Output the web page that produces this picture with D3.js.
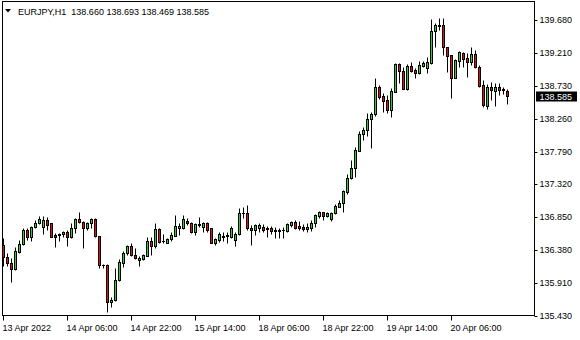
<!DOCTYPE html>
<html>
<head>
<meta charset="utf-8">
<script src="https://cdn.jsdelivr.net/npm/d3@7"></script>
<style>
  html, body { margin: 0; padding: 0; background: #fff; }
  svg { display: block; font-family: "Liberation Sans", Arial, sans-serif; font-size: 9px; }
</style>
</head>
<body>
<div id="chart"></div>
<script>
// EURJPY H1 bars
const opens = [
  136.449, 136.273, 136.187, 136.100, 136.353, 136.459, 136.664, 136.568, 136.712, 136.761,
  136.712, 136.808, 136.761, 136.593, 136.603, 136.603, 136.632, 136.560, 136.689, 136.823,
  136.775, 136.698, 136.761, 136.823, 136.583, 136.162, 136.162, 135.631, 135.660, 135.947,
  136.196, 136.330, 136.435, 136.306, 136.230, 136.248, 136.296, 136.507, 136.439, 136.679,
  136.507, 136.483, 136.531, 136.583, 136.698, 136.698, 136.798, 136.761, 136.641, 136.736,
  136.712, 136.770, 136.689, 136.474, 136.521, 136.568, 136.579, 136.568, 136.521, 136.607,
  136.904, 136.904, 136.698, 136.664, 136.698, 136.708, 136.698, 136.689, 136.669, 136.660,
  136.669, 136.650, 136.736, 136.775, 136.726, 136.712, 136.679, 136.698, 136.761, 136.870,
  136.918, 136.870, 136.823, 136.904, 136.999, 137.047, 137.215, 137.407, 137.550, 137.803,
  138.039, 138.101, 138.254, 138.331, 138.713, 138.589, 138.531, 138.388, 138.651, 139.048,
  138.952, 138.689, 139.020, 138.962, 138.923, 139.020, 138.986, 139.058, 139.522, 139.608,
  139.608, 139.288, 139.178, 138.851, 139.096, 139.202, 139.130, 139.082, 139.192, 139.001,
  138.746, 138.450, 138.723, 138.665, 138.713, 138.689, 138.660
];
const highs = [
  136.554, 136.330, 136.263, 136.425, 136.521, 136.689, 136.689, 136.726, 136.808, 136.870,
  136.870, 136.855, 136.761, 136.617, 136.617, 136.650, 136.664, 136.761, 136.833, 136.927,
  136.794, 136.784, 136.833, 136.833, 136.583, 136.177, 136.172, 135.703, 136.119, 136.248,
  136.363, 136.445, 136.483, 136.402, 136.292, 136.320, 136.560, 136.560, 136.770, 136.689,
  136.607, 136.545, 136.641, 136.880, 136.761, 136.880, 136.833, 136.784, 136.770, 136.847,
  136.775, 136.784, 136.698, 136.554, 136.632, 136.632, 136.632, 136.722, 136.632, 136.976,
  137.000, 137.023, 136.737, 136.747, 136.761, 136.747, 136.722, 136.726, 136.703, 136.698,
  136.708, 136.761, 136.794, 136.808, 136.794, 136.747, 136.770, 136.808, 136.890, 136.937,
  136.927, 136.927, 136.927, 137.038, 137.095, 137.239, 137.469, 137.670, 137.852, 138.090,
  138.148, 138.349, 138.363, 138.842, 138.746, 138.627, 138.603, 138.699, 139.067, 139.058,
  139.010, 139.044, 139.082, 138.986, 139.096, 139.091, 139.153, 139.690, 139.641, 139.704,
  139.704, 139.288, 139.178, 139.120, 139.235, 139.225, 139.202, 139.288, 139.249, 139.034,
  138.818, 138.761, 138.794, 138.770, 138.770, 138.713, 138.693
];
const lows = [
  136.148, 136.152, 135.923, 136.095, 136.330, 136.449, 136.521, 136.507, 136.689, 136.747,
  136.607, 136.664, 136.560, 136.425, 136.507, 136.568, 136.439, 136.545, 136.617, 136.761,
  136.410, 136.664, 136.689, 136.568, 136.124, 136.119, 135.492, 135.559, 135.645, 135.933,
  136.129, 136.306, 136.292, 136.253, 136.152, 136.234, 136.292, 136.306, 136.402, 136.474,
  136.474, 136.474, 136.507, 136.579, 136.593, 136.679, 136.736, 136.626, 136.593, 136.712,
  136.641, 136.641, 136.474, 136.449, 136.497, 136.507, 136.474, 136.554, 136.439, 136.593,
  136.833, 136.664, 136.449, 136.593, 136.641, 136.632, 136.568, 136.603, 136.545, 136.554,
  136.545, 136.632, 136.712, 136.675, 136.664, 136.650, 136.641, 136.650, 136.712, 136.833,
  136.808, 136.856, 136.798, 136.894, 136.990, 136.927, 137.182, 137.397, 137.430, 137.794,
  137.957, 138.015, 137.838, 138.302, 138.545, 138.363, 138.340, 138.292, 138.641, 138.771,
  138.684, 138.675, 138.938, 138.842, 138.904, 139.001, 138.914, 139.044, 139.288, 139.537,
  139.178, 138.938, 138.555, 138.847, 139.001, 139.010, 138.866, 139.034, 138.986, 138.723,
  138.436, 138.398, 138.531, 138.450, 138.603, 138.617, 138.469
];
const closes = [
  136.273, 136.187, 136.100, 136.363, 136.459, 136.664, 136.568, 136.712, 136.761, 136.818,
  136.808, 136.736, 136.568, 136.568, 136.593, 136.632, 136.560, 136.689, 136.823, 136.775,
  136.698, 136.761, 136.823, 136.583, 136.162, 136.158, 135.635, 135.660, 135.947, 136.210,
  136.330, 136.435, 136.306, 136.267, 136.267, 136.306, 136.507, 136.439, 136.679, 136.497,
  136.502, 136.536, 136.593, 136.722, 136.722, 136.818, 136.761, 136.641, 136.751, 136.751,
  136.770, 136.664, 136.483, 136.531, 136.607, 136.583, 136.593, 136.689, 136.607, 136.904,
  136.913, 136.689, 136.664, 136.736, 136.736, 136.669, 136.679, 136.650, 136.655, 136.650,
  136.660, 136.747, 136.775, 136.689, 136.689, 136.679, 136.712, 136.761, 136.880, 136.927,
  136.870, 136.904, 136.904, 137.009, 137.047, 137.225, 137.407, 137.550, 137.813, 138.039,
  138.101, 138.254, 138.331, 138.713, 138.579, 138.521, 138.388, 138.660, 139.048, 138.952,
  138.689, 139.020, 138.952, 138.923, 139.034, 139.067, 139.082, 139.522, 139.608, 139.598,
  139.288, 139.163, 138.851, 139.106, 139.216, 139.120, 139.082, 139.192, 139.001, 138.732,
  138.460, 138.723, 138.675, 138.713, 138.675, 138.675, 138.585
];

// time axis: bar index of each label and its text
const tickBars = [0, 16, 32, 48, 64, 80, 96, 112];
const tickLabels = ["13 Apr 2022", "14 Apr 06:00", "14 Apr 22:00", "15 Apr 14:00",
                    "18 Apr 06:00", "18 Apr 22:00", "19 Apr 14:00", "20 Apr 06:00"];

// price axis
const priceTicks = [139.680, 139.210, 138.730, 138.260, 137.790, 137.320, 136.850, 136.380, 135.910, 135.430];
const symbol = "EURJPY,H1";

(function() {

  let width = 580, height = 340;
  let frame = {left: 2.5, top: 1.5, right: 534.5, bottom: 315.5};
  let bull = "#33cc33", bear = "#e01010";

  let n = opens.length;
  let bars = d3.range(n).map(i => ({ i: i, o: opens[i], h: highs[i], l: lows[i], c: closes[i] }));

  let svg = d3.select("#chart")
    .append("svg")
      .attr("width", width)
      .attr("height", height);

  // x: one 4px slot per bar
  let x = d3.scaleBand()
      .domain(d3.range(n))
      .range([1.5, 1.5 + 4 * n])
      .padding(0);
  let cx = i => x(i) + x.bandwidth() / 2;

  // y: price
  let y = d3.scaleLinear()
      .domain([135.430, 139.680])
      .range([316, 20]);
  let py = v => Math.round(y(v)) + 0.5;

  // frame
  svg.append("rect")
      .attr("x", frame.left)
      .attr("y", frame.top)
      .attr("width", frame.right - frame.left)
      .attr("height", frame.bottom - frame.top)
      .attr("fill", "none")
      .attr("stroke", "#000");

  // candles
  let g = svg.append("g");
  let candle = g.selectAll("g.bar")
    .data(bars)
    .enter()
    .append("g")
      .attr("class", "bar");

  candle.append("line")
      .attr("x1", d => cx(d.i))
      .attr("x2", d => cx(d.i))
      .attr("y1", d => py(d.h))
      .attr("y2", d => py(d.l))
      .attr("stroke", "#000");

  candle.each(function(d) {
    let top = Math.min(py(d.o), py(d.c)),
        bot = Math.max(py(d.o), py(d.c)),
        sel = d3.select(this);
    if (bot - top < 1) {
      sel.append("line")
          .attr("x1", cx(d.i) - 1.5)
          .attr("x2", cx(d.i) + 1.5)
          .attr("y1", top)
          .attr("y2", top)
          .attr("stroke", "#000");
    } else {
      sel.append("rect")
          .attr("x", cx(d.i) - 1)
          .attr("y", top)
          .attr("width", 2)
          .attr("height", bot - top)
          .attr("fill", d.c >= d.o ? bull : bear)
          .attr("stroke", "#000");
    }
  });

  // time axis
  let xAxis = svg.append("g")
      .attr("transform", "translate(0," + frame.bottom + ")")
      .call(d3.axisBottom(x)
        .tickValues(tickBars)
        .tickFormat((d, k) => tickLabels[k])
        .tickSize(5)
        .tickPadding(4)
        .offset(0));
  xAxis.select(".domain").remove();
  xAxis.selectAll("text")
      .attr("text-anchor", "start")
      .attr("x", -1)
      .attr("fill", "#000");
  xAxis.attr("font-family", null).attr("font-size", null);

  // price axis
  let yAxis = svg.append("g")
      .attr("transform", "translate(" + frame.right + ",0)")
      .call(d3.axisRight(y)
        .tickValues(priceTicks)
        .tickFormat(d3.format(".3f"))
        .tickSize(3)
        .tickPadding(2)
        .offset(0));
  yAxis.select(".domain").remove();
  yAxis.selectAll(".tick").attr("transform", d => "translate(0," + py(d) + ")");
  yAxis.selectAll("text").attr("fill", "#000");
  yAxis.attr("font-family", null).attr("font-size", null);

  // current price marker
  let last = closes[n - 1];
  svg.append("rect")
      .attr("x", frame.right + 1.5)
      .attr("y", py(last) - 5)
      .attr("width", 41)
      .attr("height", 10)
      .attr("fill", "#000");
  svg.append("text")
      .attr("x", frame.right + 5)
      .attr("y", py(last))
      .attr("dy", "0.34em")
      .attr("fill", "#fff")
      .text(d3.format(".3f")(last));

  // header
  svg.append("path")
      .attr("d", "M5,9 L11,9 L8,12.5 Z")
      .attr("fill", "#000");
  svg.append("text")
      .attr("x", 18)
      .attr("y", 14.5)
      .attr("fill", "#000")
      .style("white-space", "pre")
      .text(symbol + "  " + [opens[n - 1], highs[n - 1], lows[n - 1], closes[n - 1]]
        .map(d3.format(".3f")).join(" "));

})();
</script>
</body>
</html>
